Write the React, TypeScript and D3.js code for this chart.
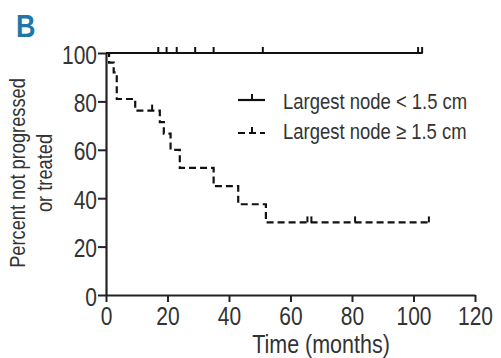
import React, { useRef, useEffect } from 'react'
import * as d3 from 'd3'

// Largest node < 1.5 cm: nobody progressed, only censored patients
const smallNodeTimes = [0, 103]
const smallNodeSurvival = [100, 100]
const smallNodeCensored = [17, 19.7, 23, 29, 35, 51, 101.5, 102.8]

// Largest node >= 1.5 cm
const largeNodeTimes = [0, 1, 2.5, 3.5, 9.5, 17.5, 18.8, 21, 24, 35, 43, 52, 105]
const largeNodeSurvival = [100, 96, 92, 81, 76.2, 71.4, 66.7, 60, 52.5, 45, 37.5, 30, 30]
const largeNodeCensored = [15, 65.5, 66.8, 81, 105]

const xTicks = [0, 20, 40, 60, 80, 100, 120]
const yTicks = [0, 20, 40, 60, 80, 100]
const legendLabels = ['Largest node < 1.5 cm', 'Largest node \u2265 1.5 cm']

const FONT = '"Liberation Sans", Arial, sans-serif'
// no narrow font installed, so squeeze the text horizontally
const SQUEEZE = 0.84

const condense = (sel: d3.Selection<any, any, any, any>, sx = SQUEEZE) => {
  sel.each(function () {
    const t = d3.select(this)
    const x0 = +(t.attr('x') || 0)
    t.attr('x', x0 / sx).attr('transform', `scale(${sx},1)`)
  })
}

export const KaplanMeier: React.FC = () => {
  const svgRef = useRef<SVGSVGElement>(null)

  useEffect(() => {
    if (!svgRef.current) return
    const width = 501
    const height = 358
    const margin = { top: 53, right: 26, bottom: 63, left: 106 }
    const innerWidth = width - margin.left - margin.right
    const innerHeight = height - margin.top - margin.bottom

    d3.select(svgRef.current).selectAll('*').remove()
    const svg = d3.select(svgRef.current).attr('width', width).attr('height', height)

    // panel letter
    const letter = svg
      .append('text')
      .attr('x', 16)
      .attr('y', 37)
      .style('font-family', FONT)
      .style('font-size', '31px')
      .style('font-weight', 'bold')
      .style('fill', '#1f77a8')
      .text('B')
    condense(letter, 0.87)

    const g = svg.append('g').attr('transform', `translate(${margin.left}, ${margin.top})`)

    const x = d3.scaleLinear().domain([0, 120]).range([0, innerWidth])
    const y = d3.scaleLinear().domain([0, 100]).range([innerHeight, 0])

    // axes
    const xAxis = g
      .append('g')
      .attr('transform', `translate(0, ${innerHeight})`)
      .call(d3.axisBottom(x).tickValues(xTicks).tickSize(7).tickPadding(5).tickSizeOuter(0))
    const yAxis = g
      .append('g')
      .call(d3.axisLeft(y).tickValues(yTicks).tickSize(8).tickPadding(1).tickSizeOuter(0))

    ;[xAxis, yAxis].forEach(ax => {
      ax.select('.domain').style('stroke', '#222').style('stroke-width', 2.2)
      ax.selectAll('.tick line').style('stroke', '#222').style('stroke-width', 2)
      const labels = ax
        .selectAll('text')
        .style('font-family', FONT)
        .style('font-size', '25px')
        .style('fill', '#333')
      condense(labels)
    })
    yAxis.selectAll('text').attr('dy', '0.4em')

    // axis titles
    const xTitle = g
      .append('text')
      .attr('x', innerWidth / 2 + 136)
      .attr('y', innerHeight + 58)
      .attr('text-anchor', 'middle')
      .style('font-family', FONT)
      .style('font-size', '25px')
      .style('fill', '#333')
      .text('Time (months)')
    xTitle.attr('x', 321 - margin.left).call(s => condense(s, 0.86))

    const yTitle = g
      .append('text')
      .attr('transform', `translate(${-81}, ${innerHeight / 2 - 1}) rotate(-90) scale(0.83,1)`)
      .attr('text-anchor', 'middle')
      .style('font-family', FONT)
      .style('font-size', '22px')
      .style('fill', '#333')
    yTitle.append('tspan').attr('x', 0).attr('y', 0).text('Percent not progressed')
    yTitle.append('tspan').attr('x', 0).attr('y', 27).text('or treated')

    const line = d3
      .line<[number, number]>()
      .x(d => x(d[0]))
      .y(d => y(d[1]))
      .curve(d3.curveStepAfter)

    const stepAt = (times: number[], surv: number[], t: number) => {
      let s = surv[0]
      times.forEach((tt, i) => {
        if (tt <= t) s = surv[i]
      })
      return s
    }

    const series = [
      { times: smallNodeTimes, surv: smallNodeSurvival, censored: smallNodeCensored, dash: null },
      { times: largeNodeTimes, surv: largeNodeSurvival, censored: largeNodeCensored, dash: '7,4' },
    ]

    series.forEach(s => {
      const pts = s.times.map((t, i) => [t, s.surv[i]] as [number, number])
      g.append('path')
        .attr('d', line(pts))
        .attr('fill', 'none')
        .attr('stroke', '#111')
        .attr('stroke-width', 2.2)
        .attr('stroke-dasharray', s.dash)

      g.selectAll(null)
        .data(s.censored)
        .enter()
        .append('line')
        .attr('x1', d => x(d))
        .attr('x2', d => x(d))
        .attr('y1', d => y(stepAt(s.times, s.surv, d)))
        .attr('y2', d => y(stepAt(s.times, s.surv, d)) - 6)
        .attr('stroke', '#111')
        .attr('stroke-width', 2)
    })

    // legend
    const legend = g.append('g').attr('transform', `translate(${238 - margin.left}, ${100 - margin.top})`)
    legendLabels.forEach((label, i) => {
      const row = legend.append('g').attr('transform', `translate(0, ${i * 33})`)
      row
        .append('line')
        .attr('x1', 0)
        .attr('x2', 27)
        .attr('stroke', '#111')
        .attr('stroke-width', 2.2)
        .attr('stroke-dasharray', i === 0 ? null : '7,4')
      row
        .append('line')
        .attr('x1', 14)
        .attr('x2', 14)
        .attr('y1', 0)
        .attr('y2', -6)
        .attr('stroke', '#111')
        .attr('stroke-width', 2)
      const txt = row
        .append('text')
        .attr('x', 45)
        .attr('y', i === 0 ? 1 : -2)
        .attr('dy', '0.35em')
        .style('font-family', FONT)
        .style('font-size', '22px')
        .style('fill', '#333')
        .text(label)
      condense(txt)
    })
  }, [])

  return <svg ref={svgRef} style={{ position: 'absolute', left: 0, top: 0, background: '#fff' }} />
}

export default function App() {
  return <KaplanMeier />
}
